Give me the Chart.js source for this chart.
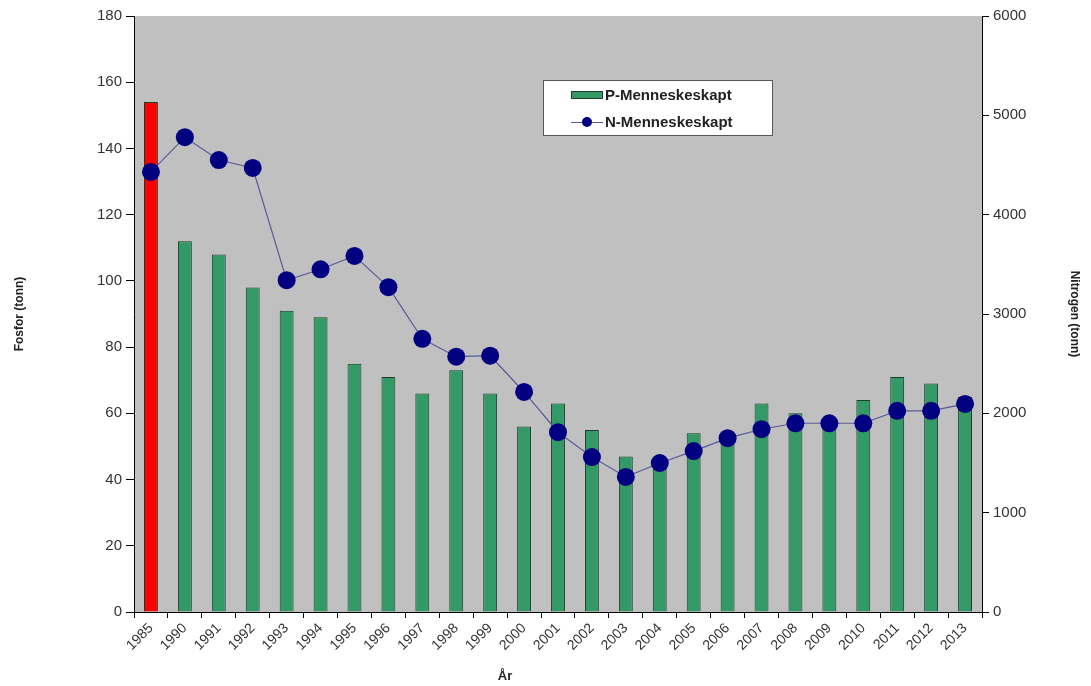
<!DOCTYPE html>
<html>
<head>
<meta charset="utf-8">
<script src="https://cdn.jsdelivr.net/npm/chart.js@4.4.1/dist/chart.umd.min.js"></script>
<style>
  html, body { margin: 0; padding: 0; background: #fff; }
  #wrap { width: 1091px; height: 686px; }
</style>
</head>
<body>
<div id="wrap"><canvas id="chart" width="1091" height="686"></canvas></div>
<script>
// ── Data ─────────────────────────────────────────────────────────────────
const years = ['1985', '1990', '1991', '1992', '1993', '1994', '1995', '1996', '1997',
  '1998', '1999', '2000', '2001', '2002', '2003', '2004', '2005', '2006', '2007',
  '2008', '2009', '2010', '2011', '2012', '2013'];

// Fosfor (tonn), left axis
const fosfor = [154, 112, 108, 98, 91, 89, 75, 71, 66, 73, 66, 56, 63, 55, 47, 45,
  54, 52, 63, 60, 58, 64, 71, 69, 65];

// Nitrogen (tonn), right axis
const nitrogen = [4430, 4780, 4550, 4470, 3340, 3450, 3585, 3270, 2750, 2570, 2580,
  2215, 1810, 1560, 1360, 1500, 1620, 1750, 1840, 1900, 1900, 1900, 2025, 2025, 2095];

const fosforTicks = [0, 20, 40, 60, 80, 100, 120, 140, 160, 180];
const nitrogenTicks = [0, 1000, 2000, 3000, 4000, 5000, 6000];

const BASE_YEAR = '1985';

const COLORS = {
  plot:   '#c0c0c0',
  bar:    '#339966',
  base:   '#ff0000',
  barEdge:'#1d3d2b',
  line:   '#5a5a9a',
  point:  '#000080',
  text:   '#333333',
  axis:   '#000000',
};

const FONT = 'Liberation Sans, Arial, Helvetica, sans-serif';

// ── Plot area background ─────────────────────────────────────────────────
const plotBackground = {
  id: 'plotBackground',
  beforeDraw(chart) {
    const { ctx, chartArea: a } = chart;
    ctx.save();
    ctx.fillStyle = COLORS.plot;
    ctx.fillRect(a.left, a.top, a.right - a.left, a.bottom - a.top);
    ctx.restore();
  }
};

// ── Boxed legend inside the plot, plus the off-centre "År" title ─────────
const boxLegend = {
  id: 'boxLegend',
  afterDraw(chart, args, opts) {
    const { ctx } = chart;
    const [bars, line] = chart.data.datasets;
    ctx.save();
    ctx.fillStyle = '#ffffff';
    ctx.fillRect(opts.x, opts.y, opts.w, opts.h);
    ctx.strokeStyle = '#555555';
    ctx.lineWidth = 1;
    ctx.strokeRect(opts.x + 0.5, opts.y + 0.5, opts.w, opts.h);

    const sx = opts.x + 28, sw = 32;
    const y1 = opts.y + 15, y2 = opts.y + 42;

    // bar swatch
    ctx.fillStyle = COLORS.bar;
    ctx.fillRect(sx, y1 - 4, sw, 8);
    ctx.strokeStyle = COLORS.barEdge;
    ctx.strokeRect(sx + 0.5, y1 - 3.5, sw - 1, 7);

    // line swatch
    ctx.strokeStyle = COLORS.line;
    ctx.beginPath();
    ctx.moveTo(sx, y2 + 0.5);
    ctx.lineTo(sx + sw, y2 + 0.5);
    ctx.stroke();
    ctx.fillStyle = COLORS.point;
    ctx.beginPath();
    ctx.arc(sx + sw / 2, y2, 5, 0, Math.PI * 2);
    ctx.fill();

    ctx.fillStyle = '#222222';
    ctx.font = 'bold 15px ' + FONT;
    ctx.textBaseline = 'middle';
    ctx.fillText(bars.label, sx + sw + 2, y1 + 1);
    ctx.fillText(line.label, sx + sw + 2, y2 + 1);

    // x axis title sits left of centre in the original
    ctx.fillStyle = '#222222';
    ctx.font = 'bold 13px ' + FONT;
    ctx.textAlign = 'center';
    ctx.fillText(opts.xTitle, opts.xTitleX, opts.xTitleY);
    ctx.restore();
  }
};

const fixedTicks = list => scale => { scale.ticks = list.map(v => ({ value: v })); };

new Chart(document.getElementById('chart'), {
  type: 'bar',
  data: {
    labels: years,
    datasets: [
      {
        label: 'P-Menneskeskapt',
        data: fosfor,
        yAxisID: 'y',
        backgroundColor: ctx => years[ctx.dataIndex] === BASE_YEAR ? COLORS.base : COLORS.bar,
        borderColor: COLORS.barEdge,
        borderWidth: 1,
        borderSkipped: 'bottom',
        barPercentage: 0.41,
        categoryPercentage: 1,
        order: 2,
      },
      {
        type: 'line',
        label: 'N-Menneskeskapt',
        data: nitrogen,
        yAxisID: 'y2',
        borderColor: COLORS.line,
        borderWidth: 1.2,
        pointRadius: 9,
        pointHoverRadius: 9,
        pointBackgroundColor: COLORS.point,
        pointBorderColor: COLORS.point,
        pointBorderWidth: 0,
        tension: 0,
        fill: false,
        order: 1,
      }
    ]
  },
  options: {
    responsive: false,
    animation: false,
    layout: { padding: { left: 8, right: 5, top: 16, bottom: 0 } },
    plugins: {
      legend: { display: false },
      tooltip: { enabled: false },
      boxLegend: { x: 543, y: 80, w: 229, h: 55, xTitle: 'År', xTitleX: 505, xTitleY: 676 },
    },
    scales: {
      x: {
        grid: { display: true, drawOnChartArea: false, drawTicks: true, tickLength: 6, color: COLORS.axis },
        border: { display: true, color: COLORS.axis, width: 1 },
        ticks: { color: COLORS.text, font: { family: FONT, size: 14 }, minRotation: 45, maxRotation: 45, padding: 2, autoSkip: false },
        afterFit: scale => { scale.height = 74; },
      },
      y: {
        position: 'left',
        min: 0, max: 180,
        afterBuildTicks: fixedTicks(fosforTicks),
        grid: { display: true, drawOnChartArea: false, drawTicks: true, tickLength: 8, color: COLORS.axis },
        border: { display: true, color: COLORS.axis, width: 1 },
        ticks: { color: COLORS.text, font: { family: FONT, size: 15 }, padding: 4 },
        title: { display: true, text: 'Fosfor (tonn)', color: '#222222', font: { family: FONT, size: 12, weight: 'bold' }, padding: { top: 4, bottom: 4 } },
        afterFit: scale => { scale.width = 126; },
      },
      y2: {
        position: 'right',
        min: 0, max: 6000,
        afterBuildTicks: fixedTicks(nitrogenTicks),
        grid: { display: true, drawOnChartArea: false, drawTicks: true, tickLength: 7, color: COLORS.axis },
        border: { display: true, color: COLORS.axis, width: 1 },
        ticks: { color: COLORS.text, font: { family: FONT, size: 15 }, padding: 4, callback: v => String(v) },
        title: { display: true, text: 'Nitrogen (tonn)', color: '#222222', font: { family: FONT, size: 12, weight: 'bold' }, padding: { top: 4, bottom: 4 } },
        afterFit: scale => { scale.width = 104; },
      }
    }
  },
  plugins: [plotBackground, boxLegend]
});
</script>
</body>
</html>
